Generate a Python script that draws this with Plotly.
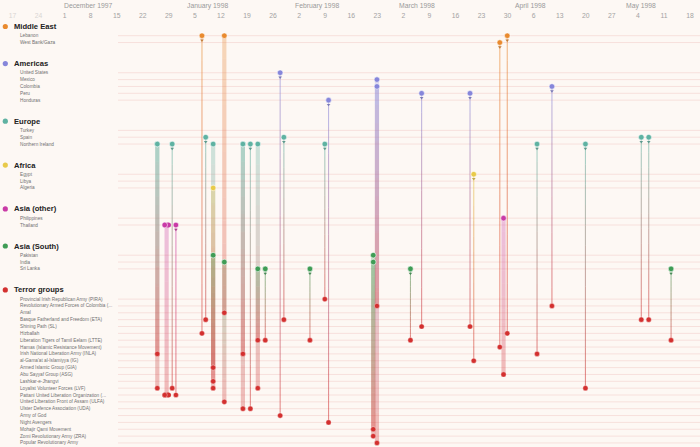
import pandas as pd
import plotly.graph_objects as go

# ---------------- data ----------------
region_names = ["Middle East", "Americas", "Europe", "Africa", "Asia (other)", "Asia (South)"]
region_colors = ["#e98a2e", "#8686da", "#5fb2a2", "#e8ca4a", "#c93aa6", "#3f9c55"]
middle_east = ["Lebanon", "West Bank/Gaza"]
americas = ["United States", "Mexico", "Colombia", "Peru", "Honduras"]
europe = ["Turkey", "Spain", "Northern Ireland"]
africa = ["Egypt", "Libya", "Algeria"]
asia_other = ["Philippines", "Thailand"]
asia_south = ["Pakistan", "India", "Sri Lanka"]

group_header = "Terror groups"
group_color = "#d3302f"
terror_groups = [
    "Provincial Irish Republican Army (PIRA)",
    "Revolutionary Armed Forces of Colombia (...",
    "Amal",
    "Basque Fatherland and Freedom (ETA)",
    "Shining Path (SL)",
    "Hizballah",
    "Liberation Tigers of Tamil Eelam (LTTE)",
    "Hamas (Islamic Resistance Movement)",
    "Irish National Liberation Army (INLA)",
    "al-Gama'at al-Islamiyya (IG)",
    "Armed Islamic Group (GIA)",
    "Abu Sayyaf Group (ASG)",
    "Lashkar-e-Jhangvi",
    "Loyalist Volunteer Forces (LVF)",
    "Pattani United Liberation Organization (...",
    "United Liberation Front of Assam (ULFA)",
    "Ulster Defence Association (UDA)",
    "Army of God",
    "Night Avengers",
    "Mohajir Qami Movement",
    "Zomi Revolutionary Army (ZRA)",
    "Popular Revolutionary Army",
]
group_codes = ["PIRA", "FARC", "Amal", "ETA", "SL", "Hizballah", "LTTE", "Hamas", "INLA", "IG", "GIA",
               "ASG", "LeJ", "LVF", "PULO", "ULFA", "UDA", "AoG", "NA", "MQM", "ZRA", "PRA"]

event_start = ["1997-12-27", "1997-12-27", "1997-12-31", "1997-12-29", "1998-01-01", "1998-01-08", "1998-01-09",
               "1998-01-11", "1998-01-11", "1998-01-11", "1998-01-14", "1998-01-14", "1998-01-19", "1998-01-19",
               "1998-01-21", "1998-01-23", "1998-01-23", "1998-01-25", "1998-01-29", "1998-01-30", "1998-02-06",
               "1998-02-10", "1998-02-11", "1998-02-23", "1998-02-23", "1998-02-24", "1998-02-24", "1998-03-05",
               "1998-03-08", "1998-03-21", "1998-03-22", "1998-03-29", "1998-03-30", "1998-03-31", "1998-04-08",
               "1998-04-12", "1998-04-21", "1998-05-06", "1998-05-08", "1998-05-14"]
event_end = list(event_start)
event_end[3] = "1997-12-30"
event_country = ["Northern Ireland", "Northern Ireland", "Northern Ireland", "Thailand", "Thailand", "Lebanon", "Spain",
                 "Northern Ireland", "Algeria", "Pakistan", "Lebanon", "India", "Northern Ireland", "Northern Ireland",
                 "Northern Ireland", "Northern Ireland", "Sri Lanka", "Sri Lanka", "United States", "Spain", "Sri Lanka",
                 "Northern Ireland", "Honduras", "Pakistan", "India", "Mexico", "Colombia", "Sri Lanka",
                 "Peru", "Peru", "Egypt", "West Bank/Gaza", "Philippines", "Lebanon", "Northern Ireland",
                 "Colombia", "Northern Ireland", "Spain", "Spain", "Sri Lanka"]
event_group = ["INLA", "LVF", "LVF", "PULO", "PULO", "Hizballah", "ETA",
               "LVF", "GIA", "LeJ", "Amal", "ULFA", "INLA", "UDA",
               "UDA", "LVF", "LTTE", "LTTE", "AoG", "ETA", "LTTE",
               "PIRA", "NA", "MQM", "ZRA", "PRA", "FARC", "LTTE",
               "SL", "SL", "IG", "Hamas", "ASG", "Hizballah", "INLA",
               "FARC", "LVF", "ETA", "ETA", "LTTE"]
event_weight = [2, 2, 1, 2, 1, 1, 1,
                2, 2, 2, 2, 2, 2, 2,
                1, 2, 2, 1, 1, 1, 1,
                1, 1, 2, 2, 2, 2, 1,
                1, 1, 1, 1, 2, 1, 1,
                1, 1, 1, 1, 1]

week_ticks = pd.date_range("1997-11-17", "1998-05-18", freq="7D")
month_labels = ["December 1997", "January 1998", "February 1998", "March 1998", "April 1998", "May 1998"]
month_label_dates = ["1997-12-01", "1998-01-03", "1998-02-01", "1998-03-01", "1998-04-01", "1998-05-01"]
data_start = "1997-12-01"

# ---------------- layout helpers ----------------
W, H = 700, 447
TOP = 22
BG = "#fdf8f4"
FONT = "Liberation Sans, Arial, sans-serif"

sections = [(region_names[i], region_colors[i], items) for i, items in
            enumerate([middle_east, americas, europe, africa, asia_other, asia_south])]
sections.append((group_header, group_color, terror_groups))

row_y = {}
row_color = {}
header_pos = []
item_pos = []
y = 26.5
for name, col, items in sections:
    header_pos.append((name, col, y))
    iy = y + 9.2
    for it in items:
        row_y[it] = iy
        row_color[it] = col
        item_pos.append((it, iy))
        iy += 6.85
    y = iy - 6.85 + 21
code_y = {c: row_y[g] for c, g in zip(group_codes, terror_groups)}

px_per_day = 3.723
origin_px = 60.5
t0 = pd.Timestamp(data_start)
x_left = t0 - pd.Timedelta(days=origin_px / px_per_day)
x_right = t0 + pd.Timedelta(days=(W - origin_px) / px_per_day)


def hex2rgb(h):
    h = h.lstrip("#")
    return tuple(int(h[i:i + 2], 16) for i in (0, 2, 4))


def mix(c1, c2, f, a):
    r1, r2 = hex2rgb(c1), hex2rgb(c2)
    r = [round(r1[i] + (r2[i] - r1[i]) * f) for i in range(3)]
    return f"rgba({r[0]},{r[1]},{r[2]},{a})"


fig = go.Figure()

# gradient connecting lines
N = 12
seg = {}
for s, e, c, g, w in zip(event_start, event_end, event_country, event_group, event_weight):
    ts, te = pd.Timestamp(s), pd.Timestamp(e)
    xm = ts + (te - ts) / 2
    y0, y1 = row_y[c], code_y[g]
    col = row_color[c]
    for k in range(N):
        key = (col, k, w)
        d = seg.setdefault(key, ([], []))
        d[0].extend([xm, xm, None])
        d[1].extend([y0 + (y1 - y0) * k / N, y0 + (y1 - y0) * (k + 1) / N, None])

for (col, k, w), (xs, ys) in seg.items():
    f = (k + 0.5) / N
    if w == 2:
        lc, lw = mix(col, group_color, f, 0.3), 4.2
    else:
        lc, lw = mix(col, group_color, f, 0.55), 1.1
    fig.add_trace(go.Scatter(x=xs, y=ys, mode="lines", line=dict(color=lc, width=lw),
                             hoverinfo="skip", showlegend=False))

# duration pills (start -> end)
for s, e, c, g in zip(event_start, event_end, event_country, event_group):
    if s != e:
        for yy, col in ((row_y[c], row_color[c]), (code_y[g], group_color)):
            fig.add_trace(go.Scatter(x=[pd.Timestamp(s), pd.Timestamp(e)], y=[yy, yy], mode="lines+markers",
                                     line=dict(color=col, width=4.5), marker=dict(size=5, color=col),
                                     hoverinfo="skip", showlegend=False))

# small arrowheads below source dots (single events)
ax, ay, acol = [], [], []
for s, c, w in zip(event_start, event_country, event_weight):
    if w == 1:
        ax.append(pd.Timestamp(s))
        ay.append(row_y[c] + 4.6)
        acol.append(mix(row_color[c], "#333333", 0.25, 0.9))
fig.add_trace(go.Scatter(x=ax, y=ay, mode="markers",
                         marker=dict(symbol="triangle-down", size=3.2, color=acol),
                         hoverinfo="skip", showlegend=False))

# source dots
fig.add_trace(go.Scatter(x=[pd.Timestamp(s) for s in event_start], y=[row_y[c] for c in event_country],
                         mode="markers",
                         marker=dict(size=5.6, color=[row_color[c] for c in event_country],
                                     line=dict(color="rgba(255,255,255,0.7)", width=0.8)),
                         hoverinfo="skip", showlegend=False))
# target dots
fig.add_trace(go.Scatter(x=[pd.Timestamp(s) for s in event_start], y=[code_y[g] for g in event_group],
                         mode="markers",
                         marker=dict(size=5.2, color=group_color,
                                     line=dict(color="rgba(255,255,255,0.6)", width=0.6)),
                         hoverinfo="skip", showlegend=False))

shapes = []
# row lines
for it, iy in item_pos:
    shapes.append(dict(type="line", xref="paper", yref="y", x0=118 / W, x1=1, y0=iy, y1=iy,
                       line=dict(color="#f7e0dc", width=1), layer="below"))
# header dots
for name, col, hy in header_pos:
    shapes.append(dict(type="circle", xref="paper", yref="y", x0=2.7 / W, x1=7.9 / W, y0=hy - 2.6, y1=hy + 2.6,
                       fillcolor=col, line=dict(width=0)))

annotations = []
for name, col, hy in header_pos:
    annotations.append(dict(x=12 / W, xref="paper", y=hy, yref="y", text=f"<b>{name}</b>", showarrow=False,
                            xanchor="left", yanchor="middle", font=dict(size=7.6, color="#222222", family=FONT)))
for it, iy in item_pos:
    annotations.append(dict(x=18 / W, xref="paper", y=iy, yref="y", text=it, showarrow=False,
                            xanchor="left", yanchor="middle", font=dict(size=4.7, color="#707070", family=FONT)))
for lab, d in zip(month_labels, month_label_dates):
    annotations.append(dict(x=pd.Timestamp(d) + pd.Timedelta(hours=10), xref="x", y=1 + (TOP - 5.5) / (H - TOP),
                            yref="paper", text=lab, showarrow=False, xanchor="left", yanchor="middle",
                            font=dict(size=6.8, color="#9a9a9a", family=FONT)))

tickvals = [t + pd.Timedelta(hours=26) for t in week_ticks]
ticktext = []
for t in week_ticks:
    lab = str(t.day)
    if t < t0:
        lab = f'<span style="color:#d9d6d3">{lab}</span>'
    ticktext.append(lab)

fig.update_layout(
    width=W, height=H,
    margin=dict(l=0, r=0, t=TOP, b=0, pad=0),
    paper_bgcolor=BG, plot_bgcolor=BG,
    font=dict(family=FONT),
    xaxis=dict(type="date", side="top", range=[x_left, x_right], tickvals=tickvals, ticktext=ticktext,
               tickfont=dict(size=6.8, color="#a3a3a3"), ticks="", showgrid=False, zeroline=False,
               showline=False, fixedrange=True, ticklabelstandoff=2, automargin=False),
    yaxis=dict(range=[H, TOP], visible=False, fixedrange=True, automargin=False),
    shapes=shapes,
    annotations=annotations,
    showlegend=False,
)

fig.write_html("out.html", config={"displayModeBar": False},
               post_script="document.body.style.margin='0';document.body.style.overflow='hidden';"
                           "document.body.style.background='" + BG + "';")
